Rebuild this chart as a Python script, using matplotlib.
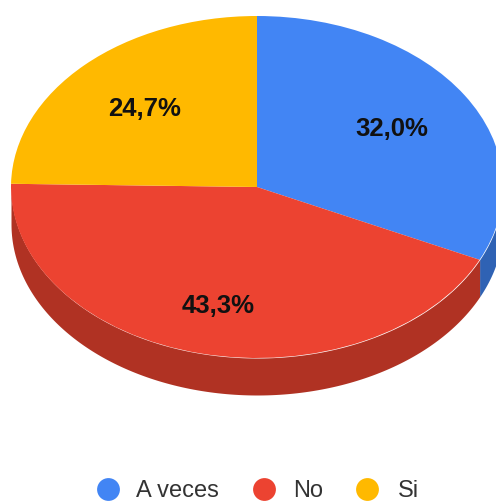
import numpy as np
import matplotlib
matplotlib.use("Agg")
import matplotlib.pyplot as plt

categories = ["A veces", "No", "Si"]
shares = [32.0, 43.3, 24.7]
top_colors = ["#4285F4", "#EC4331", "#FFB900"]
side_colors = ["#2F62B4", "#B03223", "#BF8A00"]
label_radii = [0.65, 0.70, 0.655]

W, H = 496, 502
CX, CY, RX, RY, DEPTH = 257, 188, 246, 171, 37

fig = plt.figure(figsize=(W / 100, H / 100), dpi=100, facecolor="white")
ax = fig.add_axes([0, 0, 1, 1])

# Top face of the tilted pie, clockwise from twelve o'clock
wedges, _ = ax.pie(shares, colors=top_colors, startangle=90, counterclock=False,
                   radius=1.0, wedgeprops={"linewidth": 0, "zorder": 3})

# Rim below the top face: only the front half of the ellipse is visible
depth = DEPTH / RY
start = 0.0
for share, col in zip(shares, side_colors):
    end = start + share * 3.6
    lo, hi = max(start, 90.0), min(end, 270.0)
    if lo < hi:
        t = np.radians(np.linspace(lo, hi, 160))
        x, y = np.sin(t), np.cos(t)
        ax.fill_between(x, y, y - depth, color=col, linewidth=0, zorder=2)
    start = end

# Percentage labels at the middle of each slice
start = 0.0
for share, r in zip(shares, label_radii):
    mid = np.radians(start + share * 1.8)
    ax.text(r * np.sin(mid), r * np.cos(mid) - 1.0 / RY, f"{share:.1f}%".replace(".", ","),
            ha="center", va="center", fontsize=18.5, fontweight="bold",
            family="Liberation Sans", color="#111111", zorder=5)
    start += share * 3.6

ax.set_aspect("auto")
ax.set_xlim(-CX / RX, (W - CX) / RX)
ax.set_ylim((CY - H) / RY, CY / RY)
ax.axis("off")

# Legend row along the bottom, placed in pixel units
dot_x = [108, 264, 367]
text_x = [136, 293, 398]
trans = matplotlib.transforms.Affine2D().scale(1, -1).translate(0, H)
for name, col, dx, tx in zip(categories, top_colors, dot_x, text_x):
    ax.scatter([dx], [490], s=270, color=col, linewidths=0, transform=trans,
               clip_on=False, zorder=4)
    ax.text(tx, 488.5, name, transform=trans, ha="left", va="center_baseline",
            fontsize=17, family="Liberation Sans", color="#333333")

fig.savefig("out.png", dpi=100, facecolor="white")
